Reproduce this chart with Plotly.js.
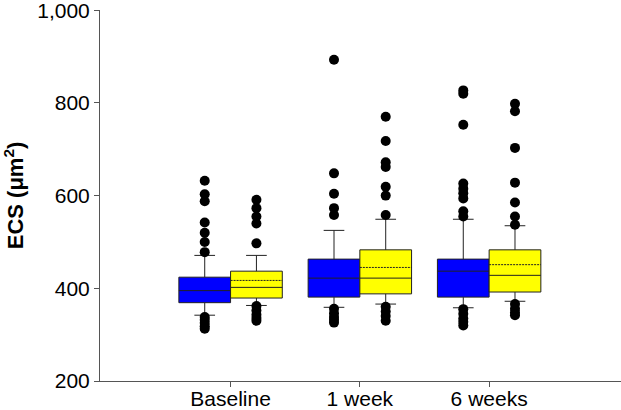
<!DOCTYPE html>
<html><head><meta charset="utf-8">
<script src="https://cdn.plot.ly/plotly-3.0.1.min.js"></script>
<style>html,body{margin:0;padding:0;background:#fff}#chart{width:621px;height:410px}</style>
</head><body><div id="chart"></div>
<script>
const categories = ["Baseline", "1 week", "6 weeks"];
// Series A (blue)
const blueQ1 = [369, 381, 381];
const blueMedian = [395, 422, 437];
const blueQ3 = [424, 463, 463];
const blueLower = [342, 359, 358];
const blueUpper = [471, 525, 549];
const blueOutliers = [
  [632, 603, 588, 542, 520, 500, 478, 338, 332, 325, 318, 313],
  [893, 648, 604, 573, 558, 356, 346, 338, 332, 326],
  [827, 820, 753, 626, 615, 605, 594, 566, 555, 355, 345, 335, 328, 320]
];
// Series B (yellow)
const yelQ1 = [379, 388, 392];
const yelMedian = [402, 422, 428];
const yelQ3 = [437, 483, 483];
const yelLower = [363, 366, 372];
const yelUpper = [471, 549, 535];
const yelMean = [417, 445, 451];
const yelOutliers = [
  [591, 573, 555, 540, 497, 362, 352, 343, 336, 330],
  [770, 718, 672, 662, 619, 600, 558, 360, 350, 340, 330],
  [798, 782, 703, 628, 585, 555, 537, 366, 356, 348, 342]
];
const yTicks = [200, 400, 600, 800, 1000];

const idx = categories.map((c, i) => i);
const off = 0.2;
function outlierTrace(lists, shift) {
  const xs = [], ys = [];
  lists.forEach((arr, i) => arr.forEach(v => { xs.push(i + shift); ys.push(v); }));
  return {type: 'scatter', mode: 'markers', x: xs, y: ys,
    marker: {color: '#000', size: 10}, hoverinfo: 'y', showlegend: false, cliponaxis: false};
}
const boxCommon = {type: 'box', width: 0.4, whiskerwidth: 0.4,
  line: {color: '#222', width: 1}, showlegend: false, boxpoints: false};
const traces = [
  Object.assign({}, boxCommon, {x: idx.map(i => i - off), q1: blueQ1, median: blueMedian, q3: blueQ3,
    lowerfence: blueLower, upperfence: blueUpper, boxmean: false, fillcolor: '#0000ff', name: 'A'}),
  Object.assign({}, boxCommon, {x: idx.map(i => i + off), q1: yelQ1, median: yelMedian, q3: yelQ3,
    lowerfence: yelLower, upperfence: yelUpper, mean: yelMean, boxmean: true, fillcolor: '#ffff00', name: 'B'}),
  outlierTrace(blueOutliers, -off),
  outlierTrace(yelOutliers, off)
];
const layout = {
  width: 621, height: 410,
  margin: {l: 100, r: 0, t: 10, b: 29},
  paper_bgcolor: '#fff', plot_bgcolor: '#fff',
  font: {family: 'Liberation Sans, Arial, sans-serif', size: 21, color: '#000'},
  boxmode: 'overlay',
  xaxis: {range: [-1.01, 3.02], tickvals: idx, ticktext: categories, ticks: 'outside', ticklen: 5,
    tickcolor: '#555', showline: true, linecolor: '#555', linewidth: 1, showgrid: false, zeroline: false,
    tickfont: {size: 21}, ticklabeloverflow: 'allow', ticklabelstandoff: -6},
  yaxis: {range: [200, 1000.5], tickvals: yTicks, ticktext: yTicks.map(v => v.toLocaleString('en-US')),
    ticks: 'outside', ticklen: 5, ticklabeloverflow: 'allow',
    tickcolor: '#555', showline: true, linecolor: '#555', linewidth: 1, showgrid: false, zeroline: false,
    tickfont: {size: 21},
    title: {text: '<b>ECS (μm<sup>2</sup>)</b>', font: {size: 22}, standoff: 12}}
};
Plotly.newPlot('chart', traces, layout, {displayModeBar: false, staticPlot: true});
</script></body></html>
